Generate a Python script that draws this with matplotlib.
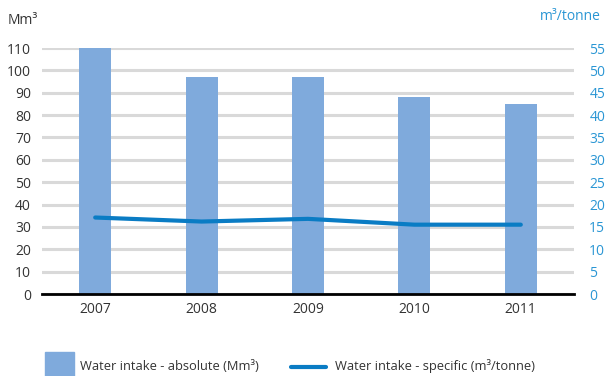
import matplotlib
matplotlib.use("Agg")
import matplotlib.pyplot as plt
from matplotlib.patches import Rectangle
from matplotlib.lines import Line2D
import numpy as np

plt.rcParams['font.family'] = ['Open Sans', 'DejaVu Sans']

# Water intake figures
years = ['2007', '2008', '2009', '2010', '2011']
absolute_mm3 = [110, 97, 97, 88, 85]
specific_m3_per_tonne = [17.1, 16.2, 16.8, 15.5, 15.5]

bar_color = '#7faadc'
line_color = '#0a7cc4'
right_color = '#2a96d4'
text_color = '#333333'
fs = 10
legend_fs = 9.3

fig = plt.figure(figsize=(6.06, 3.76), dpi=100)
ax = fig.add_axes([42 / 606, 82 / 376, 532 / 606, 246 / 376])

x = np.arange(len(years))
ax.bar(x, absolute_mm3, width=0.3, color=bar_color, zorder=2)
ax.set_xlim(-0.5, 4.5)
ax.set_ylim(0, 110)
ax.set_yticks(range(0, 111, 10))
ax.set_xticks(x)
ax.set_xticklabels(years)
ax.yaxis.grid(True, color='#d9d9d9', linewidth=2.2, zorder=0)
ax.set_axisbelow(True)
for side in ['top', 'right', 'left']:
    ax.spines[side].set_visible(False)
ax.spines['bottom'].set_color('black')
ax.spines['bottom'].set_linewidth(2)
ax.spines['bottom'].set_zorder(3)
ax.tick_params(axis='both', length=0, labelsize=fs, colors=text_color)
ax.tick_params(axis='y', pad=8)
ax.tick_params(axis='x', pad=6)

ax2 = ax.twinx()
ax2.plot(x, specific_m3_per_tonne, color=line_color, linewidth=3, zorder=4,
         solid_capstyle='round')
ax2.set_ylim(0, 55)
ax2.set_yticks(range(0, 56, 5))
for side in ['top', 'right', 'left', 'bottom']:
    ax2.spines[side].set_visible(False)
ax2.tick_params(axis='y', length=0, labelsize=fs, colors=right_color, pad=11)

fig.text(8 / 606, 1 - 20 / 376, 'Mm³', fontsize=fs, color=text_color,
         va='center', ha='left')
fig.text(601 / 606, 1 - 16 / 376, 'm³/tonne', fontsize=fs, color=right_color,
         va='center', ha='right')

# legend drawn by hand along the bottom
fig.add_artist(Rectangle((45 / 606, 0), 29 / 606, 24 / 376,
                         transform=fig.transFigure, color=bar_color))
fig.text(80 / 606, 10 / 376, 'Water intake - absolute (Mm³)', fontsize=legend_fs,
         color=text_color, va='center', ha='left')
fig.add_artist(Line2D([291 / 606, 326 / 606], [9 / 376, 9 / 376],
                      transform=fig.transFigure, color=line_color, linewidth=3,
                      solid_capstyle='round'))
fig.text(335 / 606, 10 / 376, 'Water intake - specific (m³/tonne)', fontsize=legend_fs,
         color=text_color, va='center', ha='left')

fig.savefig('out.png', dpi=100)
